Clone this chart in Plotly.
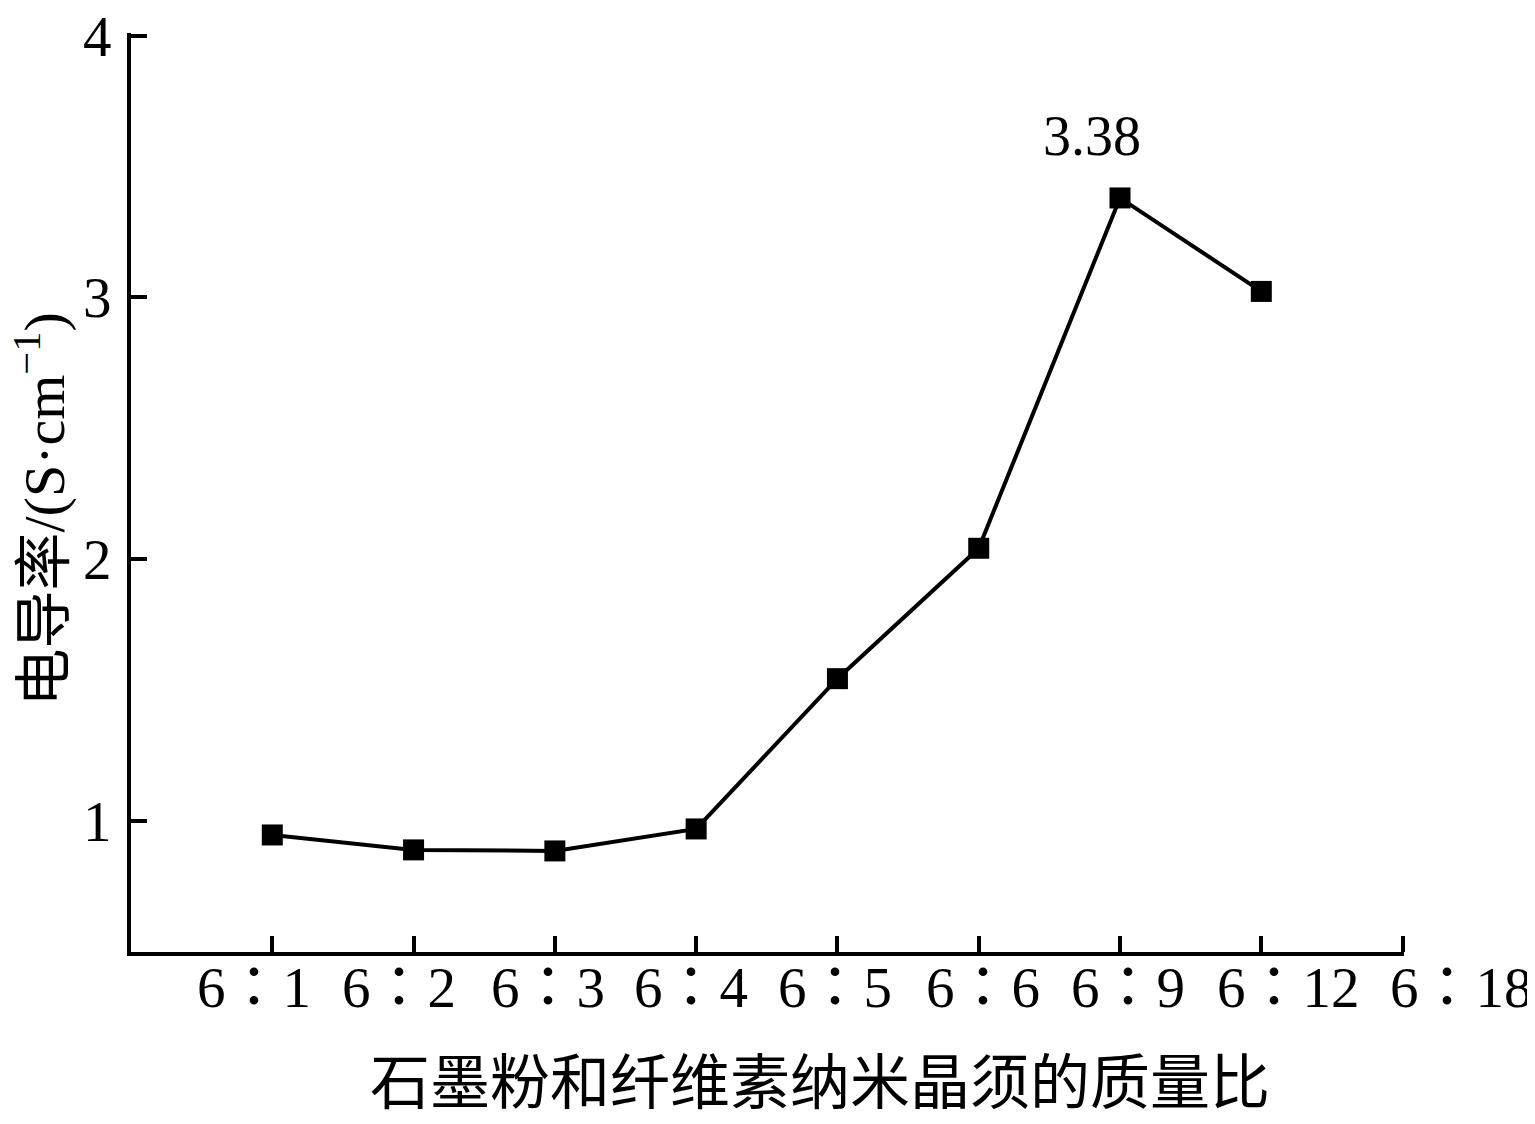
import plotly.graph_objects as go

# 质量比 (graphite : CNC) and conductivity
ratios = ["6：1", "6：2", "6：3", "6：4", "6：5", "6：6", "6：9", "6：12"]
conductivity = [0.947, 0.89, 0.886, 0.97, 1.544, 2.042, 3.38, 3.023]
tick_labels = ratios + ["6：18"]
y_ticks = [1, 2, 3, 4]
peak_label = "3.38"

positions = list(range(1, len(ratios) + 1))
tick_pos = list(range(1, len(tick_labels) + 1))

# the labels under the x axis sit as one evenly spaced row, not centred on ticks
label_nudge = [-18, -15, -7, -5, -2, 4, 8, 27, 59]

SERIF = "Liberation Serif, Times New Roman, Noto Sans CJK JP"

fig = go.Figure()
fig.add_trace(go.Scatter(
    x=positions,
    y=conductivity,
    mode="lines+markers",
    line=dict(color="black", width=4),
    marker=dict(symbol="square", size=21, color="black"),
    showlegend=False,
))

peak_idx = conductivity.index(max(conductivity))
fig.add_annotation(
    x=positions[peak_idx], y=conductivity[peak_idx],
    text=peak_label, showarrow=False,
    yshift=62, xshift=-28,
    font=dict(family=SERIF, size=56, color="black"),
)

for pos, lab, dx in zip(tick_pos, tick_labels, label_nudge):
    fig.add_annotation(
        x=pos, xref="x", y=0, yref="paper",
        text=lab, showarrow=False,
        xanchor="center", yanchor="top", xshift=dx, yshift=-2,
        font=dict(family=SERIF, size=57, color="black"),
    )

# axis titles
fig.add_annotation(
    x=0.5, xref="paper", y=0, yref="paper",
    text="石墨粉和纤维素纳米晶须的质量比", showarrow=False,
    xanchor="center", yanchor="top", xshift=52, yshift=-80,
    font=dict(family="Noto Sans CJK SC", size=60, color="black"),
)
fig.add_annotation(
    x=0, xref="paper", y=0.5, yref="paper",
    text="电导率/(S·cm<sup>−1</sup>)", showarrow=False, textangle=-90,
    xanchor="center", yanchor="middle", xshift=-91, yshift=-17,
    font=dict(family="Liberation Serif, Noto Sans CJK SC", size=58, color="black"),
)

# page has an 8px body margin, so the figure is trimmed by that much
fig.update_layout(
    width=1527, height=1116,
    margin=dict(l=123, r=131, t=25, b=172),
    paper_bgcolor="white", plot_bgcolor="white",
    font=dict(family=SERIF, size=56, color="black"),
)
fig.update_xaxes(
    range=[0, len(tick_labels) + 0.01],
    tickvals=tick_pos, showticklabels=False,
    ticks="inside", ticklen=16, tickwidth=3.5, tickcolor="black",
    showline=True, linecolor="black", linewidth=4,
    showgrid=False, zeroline=False, automargin=False,
)
fig.update_yaxes(
    range=[0.5, 4.01],
    tickvals=y_ticks,
    ticks="inside", ticklen=16, tickwidth=3.5, tickcolor="black",
    showline=True, linecolor="black", linewidth=4,
    showgrid=False, zeroline=False, automargin=False,
    tickfont=dict(family=SERIF, size=57), ticklabelstandoff=4,
    ticklabeloverflow="allow",
)

fig.write_html("out.html")
